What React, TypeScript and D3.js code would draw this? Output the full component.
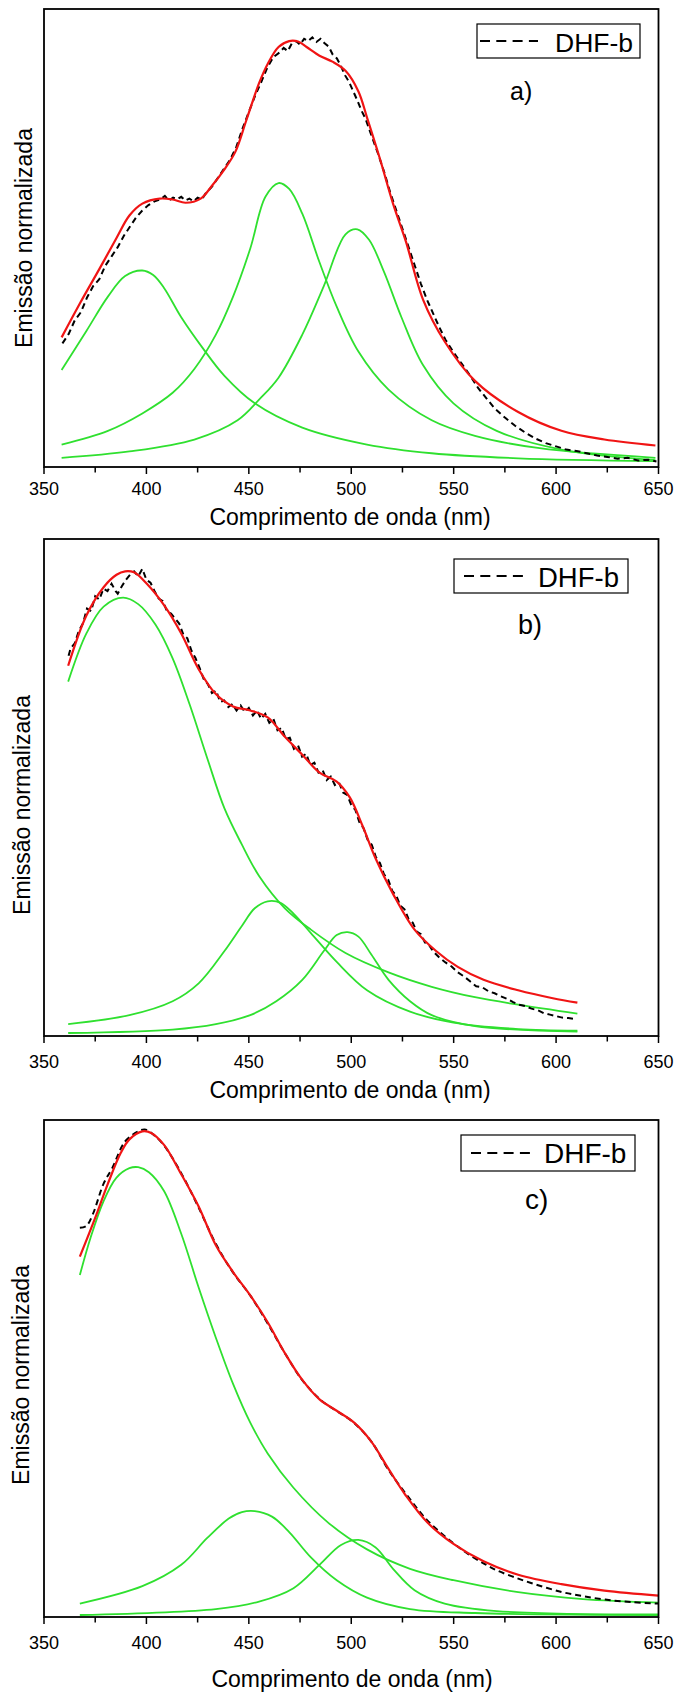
import React from 'react';
import * as d3 from 'd3';

type Pt = [number, number];

const xTicks = [350, 400, 450, 500, 550, 600, 650];
const xMinorTicks = [375, 425, 475, 525, 575, 625];
const legendLabel = 'DHF-b';
const xTitle = 'Comprimento de onda (nm)';
const yTitle = 'Emissão normalizada';
const panelLetters = ['a)', 'b)', 'c)'];

// ---------- Panel a ----------
const aExp: Pt[] = [
  [359, 0.27], [362, 0.29], [365, 0.32], [368, 0.338], [371, 0.37], [374, 0.395], [377, 0.41], [380, 0.44],
  [383, 0.46], [386, 0.48], [389, 0.505], [392, 0.525], [395, 0.545], [398, 0.56], [401, 0.572], [404, 0.58],
  [407, 0.585], [409, 0.592], [411, 0.582], [413, 0.588], [415, 0.585], [417, 0.59], [419, 0.582], [421, 0.586],
  [423, 0.58], [425, 0.588], [427, 0.584], [429, 0.598], [432, 0.612], [435, 0.632], [438, 0.652], [441, 0.672],
  [444, 0.7], [447, 0.74], [450, 0.775], [453, 0.81], [456, 0.84], [459, 0.872], [462, 0.895], [465, 0.905],
  [467, 0.915], [469, 0.908], [471, 0.925], [473, 0.93], [475, 0.922], [477, 0.935], [479, 0.93], [481, 0.938],
  [483, 0.928], [485, 0.935], [487, 0.925], [489, 0.918], [491, 0.9], [493, 0.892], [495, 0.875], [497, 0.855],
  [499, 0.84], [501, 0.82], [503, 0.8], [505, 0.778], [507, 0.76], [510, 0.722], [513, 0.685], [516, 0.645],
  [519, 0.6], [522, 0.56], [525, 0.52], [528, 0.48], [531, 0.44], [534, 0.4], [537, 0.365], [540, 0.335],
  [543, 0.305], [546, 0.278], [550, 0.25], [554, 0.225], [558, 0.2], [562, 0.172], [566, 0.15], [570, 0.128],
  [575, 0.108], [580, 0.09], [585, 0.075], [590, 0.062], [595, 0.052], [600, 0.045], [605, 0.038], [610, 0.035],
  [615, 0.03], [620, 0.025], [625, 0.022], [630, 0.018], [635, 0.02], [640, 0.014], [645, 0.016], [649, 0.012],
];
const aFit: Pt[] = [
  [358.6, 0.283], [367.5, 0.357], [377, 0.432], [385.4, 0.5], [391.7, 0.549], [398, 0.575], [406.5, 0.586],
  [412.8, 0.584], [419.1, 0.577], [426.5, 0.586], [431.8, 0.613], [438.1, 0.65], [443.4, 0.688], [448.7, 0.756],
  [455, 0.838], [459.2, 0.88], [464.5, 0.917], [469.7, 0.93], [474, 0.929], [478.2, 0.917], [484.5, 0.898],
  [490.8, 0.885], [497.2, 0.865], [503.5, 0.82], [507.7, 0.763], [514, 0.673], [520.4, 0.575], [526.7, 0.492],
  [535.1, 0.365], [545.6, 0.274], [560.4, 0.188], [581.5, 0.12], [602.6, 0.079], [623.6, 0.06], [648.5, 0.047],
];
const aPeak1: Pt[] = [
  [358.6, 0.212], [370.7, 0.297], [381.2, 0.372], [389.6, 0.417], [398, 0.429], [403.3, 0.419], [408.6, 0.391],
  [417, 0.327], [427.6, 0.259], [438.1, 0.199], [452.9, 0.139], [476.1, 0.086], [507.7, 0.049], [539.3, 0.03],
  [581.5, 0.019], [648.5, 0.013],
];
const aPeak2: Pt[] = [
  [358.6, 0.049], [381.2, 0.079], [398, 0.117], [412.8, 0.162], [423.4, 0.214], [433.9, 0.289], [442.3, 0.372],
  [450.7, 0.477], [458.1, 0.59], [464.5, 0.62], [469.7, 0.607], [476.1, 0.553], [484.5, 0.447], [492.9, 0.35],
  [503.5, 0.252], [518.2, 0.169], [539.3, 0.102], [560.4, 0.068], [592, 0.041], [648.5, 0.02],
];
const aPeak3: Pt[] = [
  [358.6, 0.02], [391.7, 0.034], [423.4, 0.06], [444.5, 0.102], [455, 0.147], [464.5, 0.195], [476.1, 0.289],
  [486.6, 0.395], [497.2, 0.508], [503, 0.519], [508.7, 0.496], [516.1, 0.425], [524.5, 0.327], [535.1, 0.222],
  [549.9, 0.139], [571, 0.079], [602.6, 0.038], [648.5, 0.015],
];

// ---------- Panel b ----------
const bExp: Pt[] = [
  [362, 0.765], [363, 0.78], [365, 0.79], [367, 0.815], [369, 0.83], [371, 0.86], [373, 0.855], [375, 0.885],
  [377, 0.878], [379, 0.9], [381, 0.895], [383, 0.91], [385, 0.895], [386, 0.89], [388, 0.905], [390, 0.918],
  [392, 0.928], [394, 0.935], [396, 0.925], [398, 0.94], [400, 0.918], [402, 0.912], [404, 0.895], [406, 0.88],
  [408, 0.875], [410, 0.855], [412, 0.85], [414, 0.84], [416, 0.83], [418, 0.808], [420, 0.8], [422, 0.775],
  [424, 0.76], [426, 0.74], [428, 0.718], [430, 0.708], [432, 0.69], [434, 0.695], [436, 0.672], [438, 0.675],
  [440, 0.662], [442, 0.668], [444, 0.655], [446, 0.665], [448, 0.652], [450, 0.66], [452, 0.645], [454, 0.655],
  [456, 0.638], [458, 0.648], [460, 0.63], [462, 0.638], [464, 0.615], [466, 0.62], [468, 0.598], [470, 0.6],
  [472, 0.578], [474, 0.585], [476, 0.562], [478, 0.568], [480, 0.545], [482, 0.55], [484, 0.53], [486, 0.535],
  [488, 0.515], [490, 0.522], [492, 0.505], [494, 0.51], [496, 0.49], [498, 0.485], [500, 0.465], [502, 0.455],
  [504, 0.43], [506, 0.418], [508, 0.395], [510, 0.385], [512, 0.36], [514, 0.348], [516, 0.325], [518, 0.315],
  [520, 0.292], [522, 0.282], [524, 0.262], [526, 0.255], [528, 0.235], [530, 0.228], [532, 0.21], [534, 0.205],
  [536, 0.188], [538, 0.183], [540, 0.17], [543, 0.158], [546, 0.148], [549, 0.14], [552, 0.128], [555, 0.12],
  [558, 0.11], [561, 0.1], [564, 0.098], [567, 0.09], [570, 0.086], [573, 0.08], [576, 0.075], [579, 0.068],
  [582, 0.063], [585, 0.06], [588, 0.055], [591, 0.052], [594, 0.046], [597, 0.043], [600, 0.04], [603, 0.037],
  [606, 0.036], [610, 0.034],
];
const bFit: Pt[] = [
  [361.8, 0.745], [370.7, 0.846], [379.1, 0.903], [385.4, 0.928], [389.6, 0.935], [393.9, 0.933], [400.2, 0.91],
  [408.6, 0.867], [417, 0.81], [425.5, 0.738], [433.9, 0.688], [442.3, 0.663], [450.7, 0.655], [459.2, 0.641],
  [467.6, 0.602], [476.1, 0.566], [484.5, 0.53], [492.9, 0.512], [499.3, 0.48], [505.6, 0.422], [511.9, 0.357],
  [520.4, 0.286], [530.9, 0.214], [541.4, 0.171], [552, 0.139], [564.6, 0.113], [581.5, 0.092], [598.4, 0.076],
  [610.4, 0.067],
];
const bPeak1: Pt[] = [
  [361.8, 0.713], [370.7, 0.81], [379.1, 0.864], [388.6, 0.882], [396, 0.869], [404.4, 0.828], [412.8, 0.76],
  [421.2, 0.666], [429.7, 0.559], [438.1, 0.458], [446.5, 0.386], [455, 0.322], [467.6, 0.257], [480.3, 0.214],
  [497.2, 0.167], [518.2, 0.128], [539.3, 0.099], [560.4, 0.078], [581.5, 0.063], [610.4, 0.045],
];
const bPeak2: Pt[] = [
  [361.8, 0.024], [391.7, 0.042], [412.8, 0.07], [425.5, 0.106], [438.1, 0.171], [446.5, 0.221], [452.9, 0.257],
  [459.2, 0.271], [465.5, 0.268], [471.8, 0.246], [480.3, 0.207], [492.9, 0.149], [507.7, 0.092], [528.7, 0.049],
  [549.9, 0.027], [581.5, 0.014], [610.4, 0.011],
];
const bPeak3: Pt[] = [
  [361.8, 0.006], [412.8, 0.013], [433.9, 0.024], [450.7, 0.042], [463.4, 0.07], [476.1, 0.113], [486.6, 0.171],
  [492.9, 0.203], [498.2, 0.209], [503.5, 0.2], [509.8, 0.164], [518.2, 0.113], [528.7, 0.07], [539.3, 0.042],
  [560.4, 0.02], [610.4, 0.009],
];

// ---------- Panel c ----------
const cExp: Pt[] = [
  [367.5, 0.783], [370.7, 0.787], [373.8, 0.81], [379.1, 0.872], [383.3, 0.903], [389.6, 0.957], [396, 0.977],
  [399.1, 0.981], [402, 0.975], [408, 0.952], [417, 0.893], [425, 0.828], [434, 0.75], [442, 0.695], [451, 0.645],
  [459, 0.592], [468, 0.528], [476, 0.477], [485, 0.437], [493, 0.414], [501, 0.392], [510, 0.352], [518, 0.297],
  [527, 0.246], [537, 0.195], [550, 0.148], [557, 0.127], [565, 0.107], [571, 0.094], [581, 0.078], [592, 0.063],
  [603, 0.05], [613, 0.042], [624, 0.035], [637, 0.03], [650, 0.027],
];
const cFit: Pt[] = [
  [367.5, 0.725], [374.9, 0.802], [381.2, 0.872], [387.5, 0.934], [391.7, 0.961], [398, 0.977], [402.3, 0.974],
  [408.6, 0.95], [417, 0.891], [425.5, 0.826], [433.9, 0.748], [442.3, 0.694], [450.7, 0.647], [459.2, 0.593],
  [467.6, 0.531], [476.1, 0.477], [484.5, 0.438], [492.9, 0.415], [501.4, 0.391], [509.8, 0.353], [518.2, 0.298],
  [526.7, 0.244], [537.2, 0.19], [549.9, 0.147], [564.6, 0.112], [581.5, 0.085], [602.6, 0.066], [623.6, 0.053],
  [650, 0.043],
];
const cPeak1: Pt[] = [
  [367.5, 0.688], [372.8, 0.764], [379.1, 0.837], [385.4, 0.884], [391.7, 0.903], [396, 0.905], [401.2, 0.895],
  [408.6, 0.857], [417, 0.771], [425.5, 0.663], [433.9, 0.562], [442.3, 0.469], [450.7, 0.391], [459.2, 0.329],
  [471.8, 0.26], [488.7, 0.19], [507.7, 0.136], [528.7, 0.097], [549.9, 0.074], [581.5, 0.05], [613.1, 0.036],
  [650, 0.029],
];
const cPeak2: Pt[] = [
  [367.5, 0.027], [398, 0.062], [417, 0.105], [429.7, 0.159], [440.2, 0.198], [446.6, 0.211], [452.9, 0.213],
  [461.3, 0.202], [469.7, 0.171], [480.3, 0.12], [492.9, 0.074], [507.7, 0.039], [528.7, 0.016], [560.4, 0.008],
  [650, 0.004],
];
const cPeak3: Pt[] = [
  [367.5, 0.004], [433.9, 0.016], [455, 0.031], [471.8, 0.058], [484.5, 0.105], [495, 0.145], [503.5, 0.155],
  [511.9, 0.14], [520.4, 0.097], [530.9, 0.054], [545.6, 0.027], [571, 0.012], [650, 0.005],
];

const panelSeries = [
  { exp: aExp, fit: aFit, peaks: [aPeak1, aPeak2, aPeak3], smoothExp: false },
  { exp: bExp, fit: bFit, peaks: [bPeak1, bPeak2, bPeak3], smoothExp: false },
  { exp: cExp, fit: cFit, peaks: [cPeak1, cPeak2, cPeak3], smoothExp: true },
];

// ---------- Layout (positions & styles) ----------
const FRAME_LEFT = 44;
const FRAME_RIGHT = 658.5;
const FONT = "'Liberation Sans', Arial, Helvetica, sans-serif";
const RED = '#f01414';
const GREEN = '#2fe02f';
const TICK_FONT = 18;
const TITLE_FONT = 23;
const YTITLE_FONT = 23;

const layouts = [
  {
    top: 9, bottom: 467, tickBase: 495, titleX: 350, titleBase: 525,
    yTitleX: 32, yTitleY: 238,
    legend: { x: 477, y: 24, w: 163, h: 34, d1: 480, d2: 538, dy: 41, tx: 555, tb: 52, font: 26.5 },
    label: { x: 510, y: 100, font: 25 },
  },
  {
    top: 539, bottom: 1036, tickBase: 1068, titleX: 350, titleBase: 1098,
    yTitleX: 30, yTitleY: 805,
    legend: { x: 454, y: 559, w: 174, h: 34, d1: 464, d2: 523, dy: 576, tx: 538, tb: 587, font: 27.5 },
    label: { x: 518, y: 634, font: 27 },
  },
  {
    top: 1120, bottom: 1617, tickBase: 1649, titleX: 352, titleBase: 1687,
    yTitleX: 29, yTitleY: 1375,
    legend: { x: 461, y: 1135, w: 174, h: 36, d1: 471, d2: 530, dy: 1153, tx: 544, tb: 1163, font: 28 },
    label: { x: 525, y: 1209, font: 28 },
  },
];

const x = d3.scaleLinear().domain([350, 650]).range([FRAME_LEFT, FRAME_RIGHT]);

function Panel({ idx }: { idx: number }) {
  const L = layouts[idx];
  const S = panelSeries[idx];
  const y = d3.scaleLinear().domain([0, 1]).range([L.bottom, L.top]);
  const smooth = d3.line<Pt>().x((d) => x(d[0])).y((d) => y(d[1])).curve(d3.curveCatmullRom.alpha(0.5));
  const raw = d3.line<Pt>().x((d) => x(d[0])).y((d) => y(d[1])).curve(d3.curveLinear);
  const expLine = S.smoothExp ? smooth : raw;
  return (
    <g>
      {S.peaks.map((p, i) => (
        <path key={i} d={smooth(p) || ''} fill="none" stroke={GREEN} strokeWidth={1.8} strokeLinejoin="round" />
      ))}
      <path d={expLine(S.exp) || ''} fill="none" stroke="#000" strokeWidth={2} strokeDasharray="6 4" />
      <path d={smooth(S.fit) || ''} fill="none" stroke={RED} strokeWidth={2.2} strokeLinejoin="round" />
      <rect x={FRAME_LEFT} y={L.top} width={FRAME_RIGHT - FRAME_LEFT} height={L.bottom - L.top}
        fill="none" stroke="#000" strokeWidth={1.8} />
      {xTicks.map((t) => (
        <g key={t}>
          <line x1={x(t)} x2={x(t)} y1={L.bottom} y2={L.bottom + 7} stroke="#000" strokeWidth={1.5} />
          <text x={x(t)} y={L.tickBase} textAnchor="middle" fontFamily={FONT} fontSize={TICK_FONT} fill="#000">{t}</text>
        </g>
      ))}
      {xMinorTicks.map((t) => (
        <line key={t} x1={x(t)} x2={x(t)} y1={L.bottom} y2={L.bottom + 5.5} stroke="#000" strokeWidth={1.5} />
      ))}
      <text x={L.titleX} y={L.titleBase} textAnchor="middle" fontFamily={FONT} fontSize={TITLE_FONT} fill="#000">{xTitle}</text>
      <text transform={`translate(${L.yTitleX},${L.yTitleY}) rotate(-90)`} textAnchor="middle" fontFamily={FONT}
        fontSize={YTITLE_FONT} fill="#000">{yTitle}</text>
      <rect x={L.legend.x} y={L.legend.y} width={L.legend.w} height={L.legend.h} fill="#fff" stroke="#000" strokeWidth={1.2} />
      <line x1={L.legend.d1} x2={L.legend.d2} y1={L.legend.dy} y2={L.legend.dy} stroke="#000" strokeWidth={2} strokeDasharray="10 6.3" />
      <text x={L.legend.tx} y={L.legend.tb} fontFamily={FONT} fontSize={L.legend.font} fill="#000">{legendLabel}</text>
      <text x={L.label.x} y={L.label.y} fontFamily={FONT} fontSize={L.label.font} fill="#000">{panelLetters[idx]}</text>
    </g>
  );
}

export default function App() {
  return (
    <svg width={677} height={1695} viewBox="0 0 677 1695"
      style={{ position: 'absolute', left: 0, top: 0, background: '#fff' }}>
      <rect x={0} y={0} width={677} height={1695} fill="#fff" />
      {layouts.map((_, i) => <Panel key={i} idx={i} />)}
    </svg>
  );
}
